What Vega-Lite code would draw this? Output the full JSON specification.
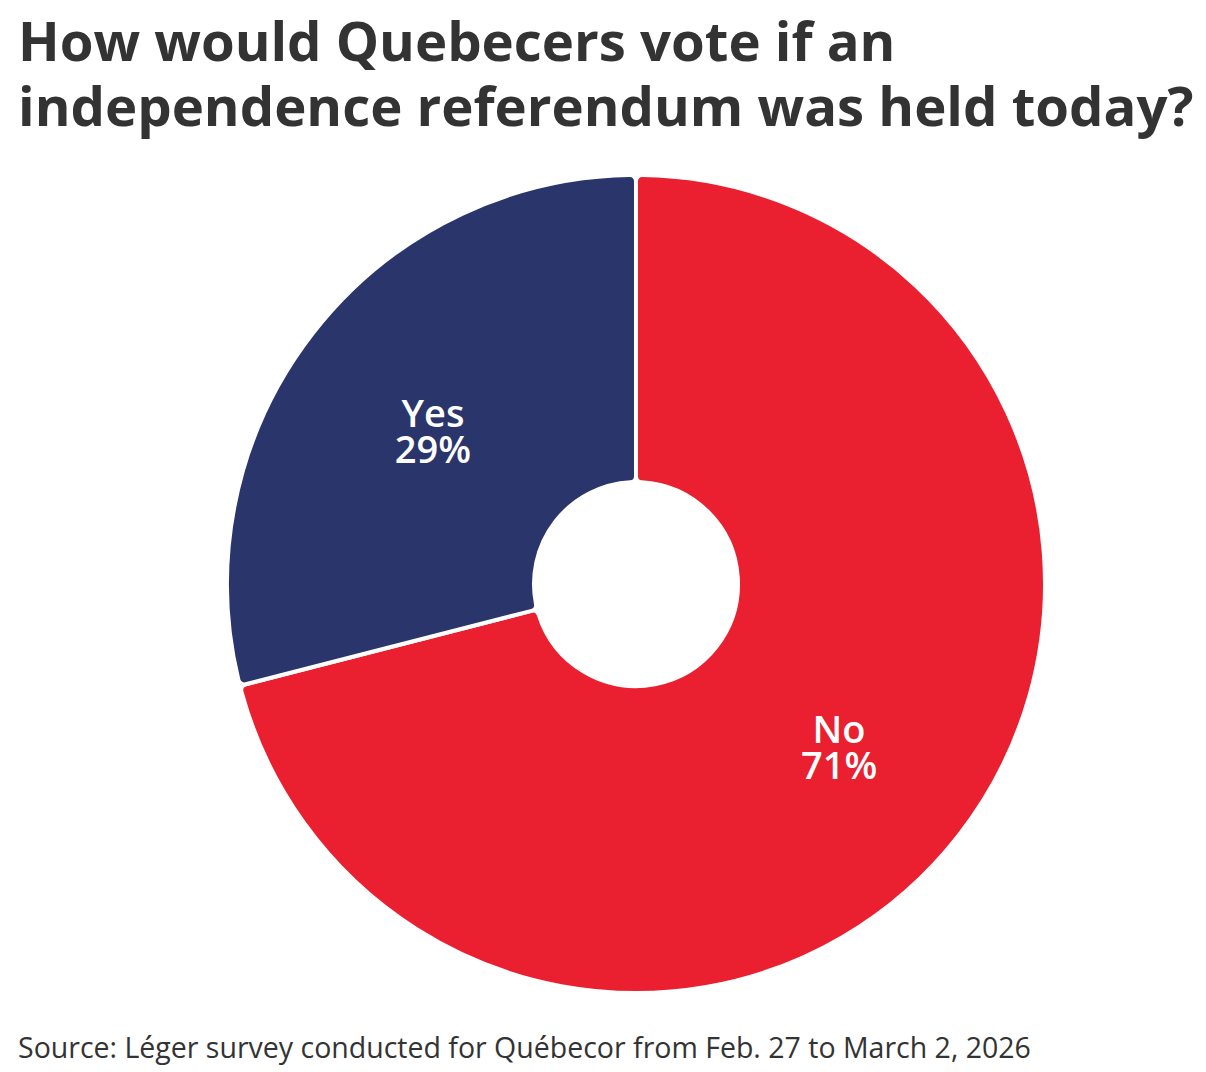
{
  "$schema": "https://vega.github.io/schema/vega-lite/v6.json",
  "background": "white",
  "padding": {"left": 18, "top": 16, "right": 0, "bottom": 8},
  "title": {
    "text": ["How would Quebecers vote if an", "independence referendum was held today?"],
    "anchor": "start",
    "font": "Open Sans",
    "fontSize": 54.5,
    "fontWeight": 700,
    "color": "#333333",
    "lineHeight": 65,
    "offset": 30
  },
  "vconcat": [
    {
      "width": 1100,
      "height": 818,
      "title": {
        "text": "Source: Léger survey conducted for Québecor from Feb. 27 to March 2, 2026",
        "orient": "bottom",
        "anchor": "start",
        "dx": -68,
        "font": "Open Sans",
        "fontSize": 28.5,
        "fontWeight": 400,
        "color": "#333333",
        "offset": 34
      },
      "data": {
        "values": [
          {"answer": "No", "share": 71, "order": 1, "label": "No\n71%"},
          {"answer": "Yes", "share": 29, "order": 2, "label": "Yes\n29%"}
        ]
      },
      "encoding": {
        "theta": {"field": "share", "type": "quantitative", "stack": true},
        "order": {"field": "order", "type": "quantitative"}
      },
      "layer": [
        {
          "mark": {"type": "arc", "outerRadius": 409, "innerRadius": 102, "stroke": "white", "strokeWidth": 4, "cornerRadius": 6},
          "encoding": {
            "color": {
              "field": "answer",
              "type": "nominal",
              "scale": {"domain": ["No", "Yes"], "range": ["#EA1F2F", "#29356B"]},
              "legend": null
            }
          }
        },
        {
          "mark": {"type": "text", "radius": 257, "lineBreak": "\n", "font": "Open Sans", "fontSize": 38, "fontWeight": 600, "lineHeight": 36, "color": "white", "align": "center", "baseline": "middle", "dy": -10},
          "encoding": {
            "text": {"field": "label", "type": "nominal"}
          }
        }
      ]
    }
  ],
  "config": {"view": {"stroke": null}, "concat": {"spacing": 0}}
}
